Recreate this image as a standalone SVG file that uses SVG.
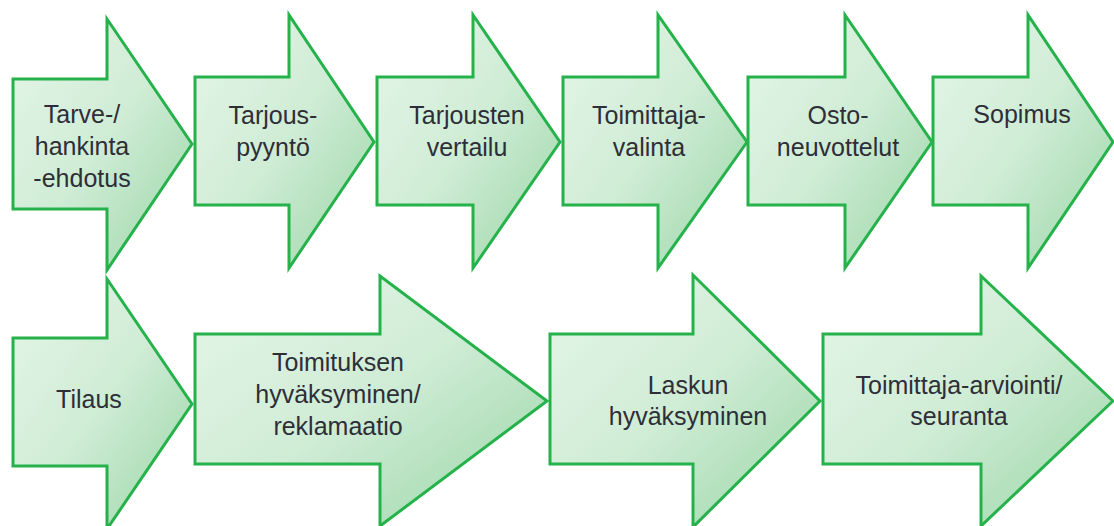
<svg xmlns="http://www.w3.org/2000/svg" width="1114" height="526" viewBox="0 0 1114 526">
  <defs>
    <linearGradient id="g" x1="0" y1="0" x2="1" y2="1">
      <stop offset="0" stop-color="#e6f6e9"/>
      <stop offset="0.5" stop-color="#cfecd5"/>
      <stop offset="1" stop-color="#98d5a6"/>
    </linearGradient>
  </defs>
  <style>
    .arr { fill: url(#g); stroke: #25b24a; stroke-width: 3; stroke-linejoin: miter; }
    .t { font-family: "Liberation Sans", Arial, sans-serif; font-size: 25px; fill: #2e2e38; text-anchor: middle; }
  </style>
  <rect width="1114" height="526" fill="#ffffff"/>
  <g id="connectors"></g>

  <g id="n1">
    <polygon class="arr" points="13,79 107,79 107,19 192,144 107,270 107,209 13,209"/>
    <text class="t" x="82" y="123">Tarve-/</text>
    <text class="t" x="82" y="155">hankinta</text>
    <text class="t" x="82" y="187">-ehdotus</text>
  </g>
  <g id="n2">
    <polygon class="arr" points="195,77 289,77 289,15 374,142 289,268 289,205 195,205"/>
    <text class="t" x="273" y="124">Tarjous-</text>
    <text class="t" x="273" y="156">pyyntö</text>
  </g>
  <g id="n3">
    <polygon class="arr" points="377,77 473,77 473,15 560,142 473,268 473,205 377,205"/>
    <text class="t" x="467" y="124">Tarjousten</text>
    <text class="t" x="467" y="156">vertailu</text>
  </g>
  <g id="n4">
    <polygon class="arr" points="563,77 658,77 658,15 747,142 658,268 658,205 563,205"/>
    <text class="t" x="649" y="124">Toimittaja-</text>
    <text class="t" x="649" y="156">valinta</text>
  </g>
  <g id="n5">
    <polygon class="arr" points="748,77 845,77 845,15 932,142 845,268 845,205 748,205"/>
    <text class="t" x="838" y="124">Osto-</text>
    <text class="t" x="838" y="156">neuvottelut</text>
  </g>
  <g id="n6">
    <polygon class="arr" points="933,77 1028,77 1028,15 1113,142 1028,268 1028,205 933,205"/>
    <text class="t" x="1022" y="123">Sopimus</text>
  </g>

  <g id="n7">
    <polygon class="arr" points="13,338 107,338 107,279 192,404 107,529 107,466 13,466"/>
    <text class="t" x="89" y="408">Tilaus</text>
  </g>
  <g id="n8">
    <polygon class="arr" points="195,334 380,334 380,276 547,401 380,526 380,464 195,464"/>
    <text class="t" x="338" y="371">Toimituksen</text>
    <text class="t" x="338" y="403">hyväksyminen/</text>
    <text class="t" x="338" y="435">reklamaatio</text>
  </g>
  <g id="n9">
    <polygon class="arr" points="550,334 693,334 693,275 820,401 693,527 693,464 550,464"/>
    <text class="t" x="688" y="394">Laskun</text>
    <text class="t" x="688" y="425">hyväksyminen</text>
  </g>
  <g id="n10">
    <polygon class="arr" points="823,334 981,334 981,276 1113,401 981,526 981,464 823,464"/>
    <text class="t" x="959" y="394">Toimittaja-arviointi/</text>
    <text class="t" x="959" y="425">seuranta</text>
  </g>
</svg>
